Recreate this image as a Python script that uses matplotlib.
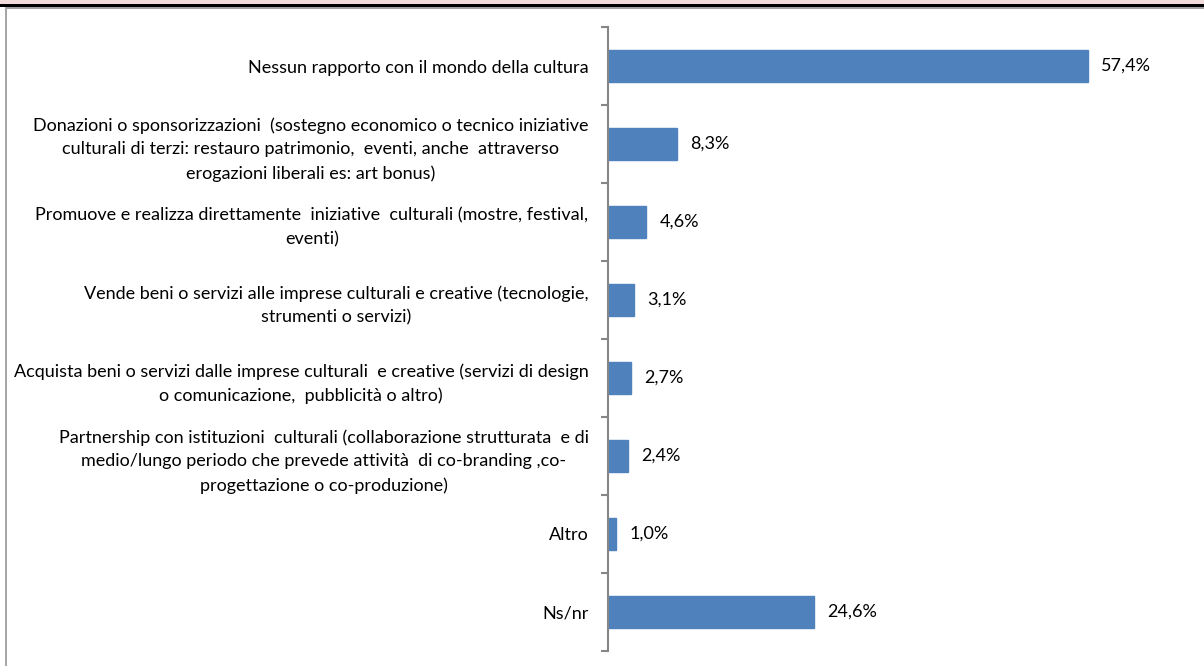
import matplotlib.pyplot as plt
from matplotlib.patches import Rectangle

categories = [
    "Nessun rapporto con il mondo della cultura",
    "Donazioni o sponsorizzazioni  (sostegno economico o tecnico iniziative\n"
    "culturali di terzi: restauro patrimonio,  eventi, anche  attraverso\n"
    "erogazioni liberali es: art bonus)",
    "Promuove e realizza direttamente  iniziative  culturali (mostre, festival,\neventi)",
    "Vende beni o servizi alle imprese culturali e creative (tecnologie,\nstrumenti o servizi)",
    "Acquista beni o servizi dalle imprese culturali  e creative (servizi di design\n"
    "o comunicazione,  pubblicità o altro)",
    "Partnership con istituzioni  culturali (collaborazione strutturata  e di\n"
    "medio/lungo periodo che prevede attività  di co-branding ,co-\n"
    "progettazione o co-produzione)",
    "Altro",
    "Ns/nr",
]
values = [57.4, 8.3, 4.6, 3.1, 2.7, 2.4, 1.0, 24.6]

plt.rcParams['font.family'] = ['Lato', 'DejaVu Sans']

W, H = 1204, 666
fig = plt.figure(figsize=(W / 100, H / 100), dpi=100)

# frame decorations at the top and left
fig.patches.append(Rectangle((0, 1 - 4 / H), 1, 4 / H, transform=fig.transFigure,
                             facecolor='#F2DCDB', edgecolor='none'))
fig.patches.append(Rectangle((0, 1 - 7 / H), 1, 3 / H, transform=fig.transFigure,
                             facecolor='black', edgecolor='none'))
fig.patches.append(Rectangle((5 / W, 1 - 8.5 / H), 1, 1.5 / H, transform=fig.transFigure,
                             facecolor='#A0A0A0', edgecolor='none'))
fig.patches.append(Rectangle((5 / W, 0), 2 / W, 1 - 7 / H, transform=fig.transFigure,
                             facecolor='#A6A6A6', edgecolor='none'))

ax = fig.add_axes([608 / W, 15 / H, 580 / W, (651 - 15 - 12) / H])
y = list(range(len(values)))
ax.barh(y, values, height=0.4, color='#4F81BD', edgecolor='#4F81BD')
ax.set_ylim(len(values) - 0.5, -0.5)
ax.set_xlim(0, 580 / 8.36)

for yi, v in zip(y, values):
    ax.annotate(f"{v:.1f}%".replace('.', ','), (v, yi), xytext=(9.5, 0),
                textcoords='offset points', va='center', ha='left', fontsize=13)

ax.set_yticks([i - 0.5 for i in range(len(values) + 1)], minor=False)
ax.set_yticklabels([])
ax.set_yticks(y, minor=True)
ax.set_yticklabels(categories, minor=True, fontsize=13, multialignment='center', linespacing=1.6)
ax.tick_params(axis='y', which='major', length=5, width=1.5, color='#868686', direction='out')
ax.tick_params(axis='y', which='minor', length=0, pad=14)
ax.set_xticks([])
for s in ['top', 'right', 'bottom']:
    ax.spines[s].set_visible(False)
ax.spines['left'].set_color('#868686')
ax.spines['left'].set_linewidth(1.5)

fig.savefig('out.png', dpi=100)
